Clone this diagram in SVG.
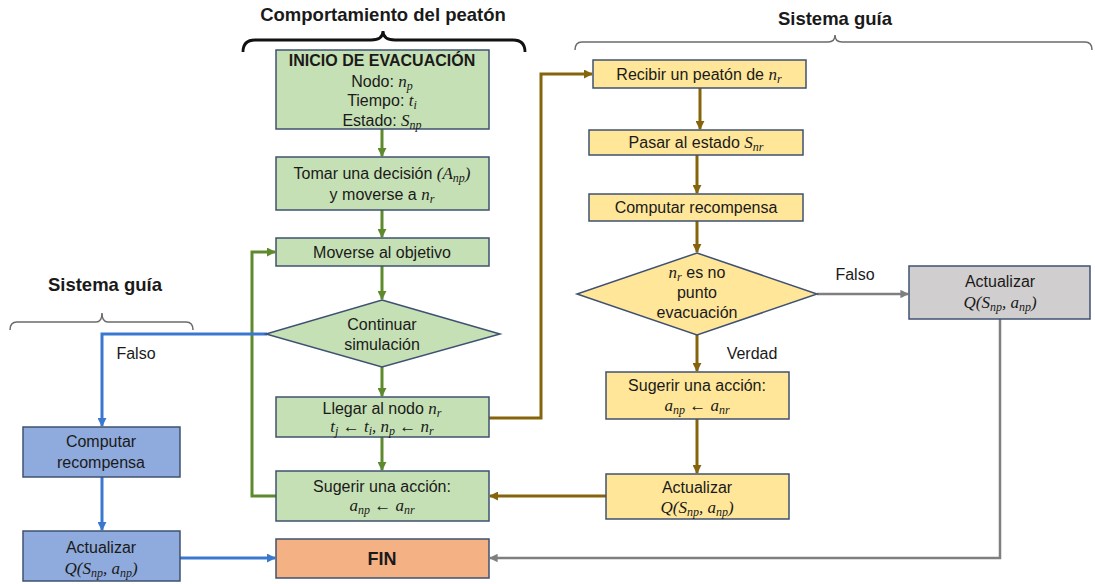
<svg xmlns="http://www.w3.org/2000/svg" width="1095" height="584" viewBox="0 0 1095 584">
  <defs>
    <style>
      text { font-family: "Liberation Sans", Arial, sans-serif; font-size: 16px; fill: #1a1a1a; text-anchor: middle; }
      .m { font-family: "Liberation Serif", "Times New Roman", serif; font-style: italic; font-size: 17px; }
      .s { font-size: 12px; }
      .title { font-weight: bold; font-size: 18.5px; }
      .b { font-weight: bold; }
      .box { stroke: #3f5172; stroke-width: 1.5; }
      .green { fill: #c5e0b4; }
      .yellow { fill: #ffe699; }
      .blue { fill: #8faadc; }
      .gray { fill: #d0cece; }
      .orange { fill: #f4b183; }
      .cg { stroke: #5e8a2e; stroke-width: 3; fill: none; }
      .cy { stroke: #86640c; stroke-width: 3; fill: none; }
      .cb { stroke: #3a78d0; stroke-width: 3; fill: none; }
      .cgr { stroke: #7f7f7f; stroke-width: 2.5; fill: none; }
      .brace { stroke: #6b6b6b; stroke-width: 1.5; fill: none; }
    </style>
    <marker id="ag" viewBox="0 0 10 10" refX="9" refY="5" markerWidth="3" markerHeight="3" orient="auto"><path d="M0,0 L10,5 L0,10 z" fill="#5e8a2e"/></marker>
    <marker id="ay" viewBox="0 0 10 10" refX="9" refY="5" markerWidth="3" markerHeight="3" orient="auto"><path d="M0,0 L10,5 L0,10 z" fill="#86640c"/></marker>
    <marker id="ab" viewBox="0 0 10 10" refX="9" refY="5" markerWidth="3" markerHeight="3" orient="auto"><path d="M0,0 L10,5 L0,10 z" fill="#3a78d0"/></marker>
    <marker id="agr" viewBox="0 0 10 10" refX="9" refY="5" markerWidth="3.4" markerHeight="3.4" orient="auto"><path d="M0,0 L10,5 L0,10 z" fill="#7f7f7f"/></marker>
  </defs>

  <rect width="1095" height="584" fill="#ffffff"/>

  <!-- section headings and braces -->
  <g id="headers">
    <text class="title" x="383" y="21">Comportamiento del peatón</text>
    <path d="M243,52 Q243,40 255,40 H371 Q383,40 383,31 Q383,40 395,40 H513 Q525,40 525,52" stroke="#111" stroke-width="2.8" fill="none"/>
    <text class="title" x="835" y="25">Sistema guía</text>
    <path class="brace" d="M575,50 Q575,42 582,42 H828 Q835,42 835,35 Q835,42 842,42 H1085 Q1092,42 1092,50"/>
    <text class="title" x="105" y="291">Sistema guía</text>
    <path class="brace" d="M10,330 Q10,322 17,322 H96 Q102,322 102,313 Q102,322 108,322 H186 Q193,322 193,330"/>
  </g>

  <!-- connectors -->
  <g id="connectors">
    <!-- pedestrian column -->
    <path class="cg" d="M382,129 V156" marker-end="url(#ag)"/>
    <path class="cg" d="M382,210 V237" marker-end="url(#ag)"/>
    <path class="cg" d="M382,266 V299" marker-end="url(#ag)"/>
    <path class="cg" d="M382,367 V396" marker-end="url(#ag)"/>
    <path class="cg" d="M382,437 V470" marker-end="url(#ag)"/>
    <path class="cg" d="M276,496 H252 V252 H275" marker-end="url(#ag)"/>
    <!-- guide system column -->
    <path class="cy" d="M489,418 H541 V74 H592" marker-end="url(#ay)"/>
    <path class="cy" d="M700,88 V129" marker-end="url(#ay)"/>
    <path class="cy" d="M697,155 V193" marker-end="url(#ay)"/>
    <path class="cy" d="M697,221 V252" marker-end="url(#ay)"/>
    <path class="cy" d="M697,335 V371" marker-end="url(#ay)"/>
    <path class="cy" d="M697,419 V473" marker-end="url(#ay)"/>
    <path class="cy" d="M606,496 H490" marker-end="url(#ay)"/>
    <path class="cgr" d="M817,294 H908" marker-end="url(#agr)"/>
    <path class="cgr" d="M1000,319 V558 H490" marker-end="url(#agr)"/>
    <!-- left guide branch -->
    <path class="cb" d="M267,334 H102 V426" marker-end="url(#ab)"/>
    <path class="cb" d="M102,477 V530" marker-end="url(#ab)"/>
    <path class="cb" d="M180,558 H275" marker-end="url(#ab)"/>
    <text x="855" y="280">Falso</text>
    <text x="752" y="359">Verdad</text>
    <text x="136" y="359">Falso</text>
  </g>

  <!-- pedestrian behaviour nodes -->
  <g id="inicio">
    <rect class="box green" x="276" y="50" width="213" height="79"/>
    <text class="b" x="382" y="66">INICIO DE EVACUACIÓN</text>
    <text x="382" y="87">Nodo: <tspan class="m">n</tspan><tspan class="m s" dy="3">p</tspan></text>
    <text x="382" y="106">Tiempo: <tspan class="m">t</tspan><tspan class="m s" dy="3">i</tspan></text>
    <text x="382" y="126">Estado: <tspan class="m">S</tspan><tspan class="m s" dy="3">np</tspan></text>
  </g>
  <g id="tomar">
    <rect class="box green" x="276" y="157" width="213" height="53"/>
    <text x="382" y="179">Tomar una decisión <tspan class="m">(A</tspan><tspan class="m s" dy="3">np</tspan><tspan class="m" dy="-3">)</tspan></text>
    <text x="382" y="200">y moverse a  <tspan class="m">n</tspan><tspan class="m s" dy="3">r</tspan></text>
  </g>
  <g id="moverse">
    <rect class="box green" x="276" y="238" width="213" height="28"/>
    <text x="382" y="258">Moverse al objetivo</text>
  </g>
  <g id="continuar">
    <polygon class="box green" points="382,300 500,334 382,367 266,334"/>
    <text x="382" y="330">Continuar</text>
    <text x="382" y="350">simulación</text>
  </g>
  <g id="llegar">
    <rect class="box green" x="276" y="397" width="213" height="40"/>
    <text x="382" y="414">Llegar al nodo <tspan class="m">n</tspan><tspan class="m s" dy="3">r</tspan></text>
    <text class="m" x="382" y="432">t<tspan class="s" dy="3">j</tspan><tspan dy="-3"> ← t</tspan><tspan class="s" dy="3">i</tspan><tspan dy="-3">, n</tspan><tspan class="s" dy="3">p</tspan><tspan dy="-3"> ← n</tspan><tspan class="s" dy="3">r</tspan></text>
  </g>
  <g id="sugerir-peaton">
    <rect class="box green" x="276" y="471" width="213" height="50"/>
    <text x="382" y="492">Sugerir una acción:</text>
    <text class="m" x="382" y="511">a<tspan class="s" dy="3">np</tspan><tspan dy="-3"> ← a</tspan><tspan class="s" dy="3">nr</tspan></text>
  </g>
  <g id="fin">
    <rect class="box orange" x="276" y="539" width="213" height="39"/>
    <text class="b" x="382" y="565" style="font-size:18px">FIN</text>
  </g>

  <!-- guide system nodes -->
  <g id="recibir">
    <rect class="box yellow" x="593" y="60" width="213" height="28"/>
    <text x="699" y="80">Recibir un peatón de <tspan class="m">n</tspan><tspan class="m s" dy="3">r</tspan></text>
  </g>
  <g id="pasar">
    <rect class="box yellow" x="589" y="130" width="214" height="25"/>
    <text x="696" y="148">Pasar al estado <tspan class="m">S</tspan><tspan class="m s" dy="3">nr</tspan></text>
  </g>
  <g id="computar">
    <rect class="box yellow" x="589" y="194" width="214" height="27"/>
    <text x="696" y="213">Computar recompensa</text>
  </g>
  <g id="evacuacion">
    <polygon class="box yellow" points="697,253 817,294 697,335 577,294"/>
    <text x="697" y="278"><tspan class="m">n</tspan><tspan class="m s" dy="3">r</tspan><tspan dy="-3"> es no</tspan></text>
    <text x="697" y="298">punto</text>
    <text x="697" y="318">evacuación</text>
  </g>
  <g id="sugerir-guia">
    <rect class="box yellow" x="606" y="372" width="183" height="47"/>
    <text x="697" y="391">Sugerir una acción:</text>
    <text class="m" x="697" y="411">a<tspan class="s" dy="3">np</tspan><tspan dy="-3"> ← a</tspan><tspan class="s" dy="3">nr</tspan></text>
  </g>
  <g id="actualizar-guia">
    <rect class="box yellow" x="606" y="474" width="183" height="45"/>
    <text x="697" y="493">Actualizar</text>
    <text class="m" x="697" y="513">Q(S<tspan class="s" dy="3">np</tspan><tspan dy="-3">, a</tspan><tspan class="s" dy="3">np</tspan><tspan dy="-3">)</tspan></text>
  </g>
  <g id="actualizar-falso">
    <rect class="box gray" x="909" y="266" width="181" height="53"/>
    <text x="1000" y="287">Actualizar</text>
    <text class="m" x="1000" y="308">Q(S<tspan class="s" dy="3">np</tspan><tspan dy="-3">, a</tspan><tspan class="s" dy="3">np</tspan><tspan dy="-3">)</tspan></text>
  </g>

  <!-- left guide branch nodes -->
  <g id="computar-fin">
    <rect class="box blue" x="23" y="427" width="157" height="50"/>
    <text x="101" y="447">Computar</text>
    <text x="101" y="468">recompensa</text>
  </g>
  <g id="actualizar-fin">
    <rect class="box blue" x="23" y="531" width="157" height="50"/>
    <text x="101" y="553">Actualizar</text>
    <text class="m" x="101" y="574">Q(S<tspan class="s" dy="3">np</tspan><tspan dy="-3">, a</tspan><tspan class="s" dy="3">np</tspan><tspan dy="-3">)</tspan></text>
  </g>
</svg>
